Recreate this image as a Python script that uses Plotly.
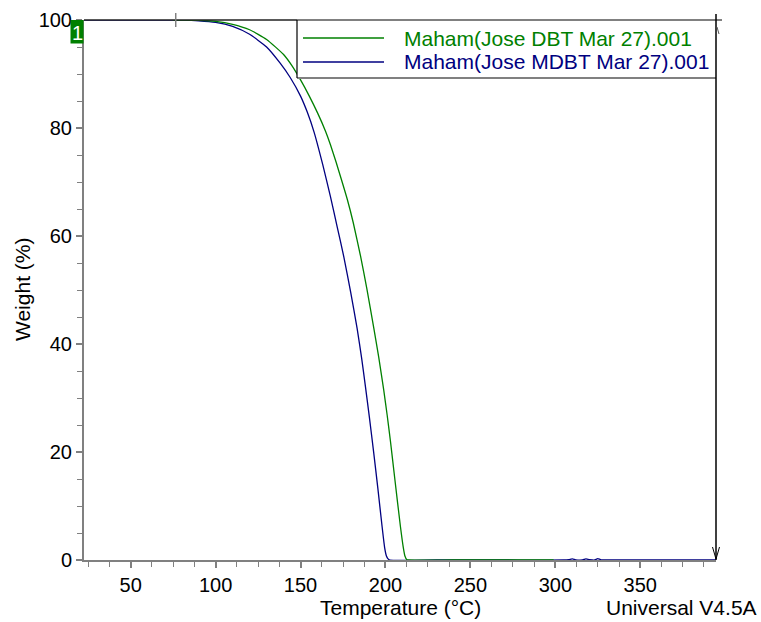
import plotly.graph_objects as go

# TGA weight-loss curves (temperature in °C, weight in %)
series_names = ["Maham(Jose DBT Mar 27).001", "Maham(Jose MDBT Mar 27).001"]
series_colors = ["#008000", "#000080"]

dbt_temp = [75, 80, 90, 100, 110, 120, 130, 140, 145, 150, 155, 160, 164.7,
            167.6, 171, 174, 177.5, 181, 185.3, 189, 193.1, 196, 199, 201, 203,
            205.5, 208.8, 210.5, 211.5, 212.5, 213.3, 240, 270, 299]
dbt_weight = [100, 100, 99.95, 99.75, 99.2, 98.2, 96.4, 93.6, 91.5, 88.9, 86.0,
              82.8, 79.4, 76.9, 73.6, 70.5, 66.8, 62.5, 56.3, 50.3, 43.0, 37.6,
              31.4, 26.8, 21.8, 15.0, 6.2, 2.3, 0.7, 0.1, 0.0, 0.0, 0.0, 0.0]

mdbt_temp = [22.5, 40, 60, 80, 90, 100, 110, 120, 130, 138, 144, 150, 154,
             158, 163, 167.6, 171.5, 175.5, 179.5, 183.3, 186, 188.2, 190.5,
             193.1, 195.5, 198, 199.5, 200.5, 201.5, 202.5, 230, 270, 305, 308,
             310, 312, 316, 318, 320, 323, 325, 327, 340, 380, 394.6]
mdbt_weight = [100, 100, 100, 99.97, 99.85, 99.55, 98.8, 97.35, 95.0, 92.0,
               89.3, 85.9, 82.9, 79.2, 73.3, 67.3, 61.8, 56.1, 49.6, 42.9,
               37.3, 32.1, 26.5, 19.8, 13.3, 6.2, 2.3, 0.8, 0.2, 0.0, 0.0, 0.0,
               0.0, 0.08, 0.2, 0.03, 0.0, 0.2, 0.08, 0.0, 0.25, 0.04, 0.0, 0.0,
               0.0]

x_ticks = [50, 100, 150, 200, 250, 300, 350]
y_ticks = [0, 20, 40, 60, 80, 100]

FONT = "Liberation Sans, Arial, sans-serif"
AXIS_GRAY = "#808080"

fig = go.Figure()
fig.add_trace(go.Scatter(x=mdbt_temp, y=mdbt_weight, mode="lines",
                         name=series_names[1], showlegend=False,
                         line=dict(color=series_colors[1], width=1.3, shape="spline",
                                   smoothing=0.5)))
fig.add_trace(go.Scatter(x=dbt_temp, y=dbt_weight, mode="lines",
                         name=series_names[0], showlegend=False,
                         line=dict(color=series_colors[0], width=1.3, shape="spline",
                                   smoothing=0.5)))

# plot area: 84..716 px horizontally, 20..560 px vertically
L, R, T, B = 84, 45, 20, 62
W, H = 761, 622
pw, ph = W - L - R, H - T - B


def px_x(px):
    return (px - L) / pw


def px_y(py):
    return (H - B - py) / ph


shapes = []
# dark top frame up to the legend box
shapes.append(dict(type="line", xref="paper", yref="paper", x0=0, x1=px_x(297),
                   y0=1, y1=1, line=dict(color="#222222", width=1.5)))
# legend box
shapes.append(dict(type="rect", xref="paper", yref="paper", x0=px_x(297), x1=1,
                   y0=px_y(78), y1=1, fillcolor="white", line=dict(width=0),
                   layer="above"))
shapes.append(dict(type="line", xref="paper", yref="paper", x0=px_x(297), x1=px_x(722),
                   y0=1, y1=1, line=dict(color=AXIS_GRAY, width=2)))
shapes.append(dict(type="line", xref="paper", yref="paper", x0=px_x(297), x1=1,
                   y0=px_y(78), y1=px_y(78), line=dict(color=AXIS_GRAY, width=2)))
shapes.append(dict(type="line", xref="paper", yref="paper", x0=px_x(297), x1=px_x(297),
                   y0=px_y(78), y1=1, line=dict(color="black", width=1.2)))
# right-hand cursor line with arrow marks
shapes.append(dict(type="line", xref="paper", yref="paper", x0=1, x1=1,
                   y0=0, y1=px_y(14), line=dict(color="black", width=1.5)))
shapes.append(dict(type="line", xref="paper", yref="paper", x0=px_x(712.5), x1=1,
                   y0=px_y(547), y1=px_y(559), line=dict(color="black", width=1)))
shapes.append(dict(type="line", xref="paper", yref="paper", x0=px_x(719.5), x1=1,
                   y0=px_y(547), y1=px_y(559), line=dict(color="black", width=1)))
shapes.append(dict(type="line", xref="paper", yref="paper", x0=px_x(717), x1=px_x(719),
                   y0=px_y(27), y1=px_y(34), line=dict(color="#555555", width=1)))
# cursor tick at the top frame
shapes.append(dict(type="line", xref="x", yref="paper", x0=76.5, x1=76.5,
                   y0=px_y(27), y1=px_y(13), line=dict(color=AXIS_GRAY, width=1.5)))
# numbered curve marker box
shapes.append(dict(type="rect", xref="paper", yref="paper", x0=px_x(70.5), x1=px_x(83.5),
                   y0=px_y(43.5), y1=px_y(20), fillcolor="#008000", line=dict(width=0)))

annotations = []
legend_rows = [38, 62]
for name, color, row in zip(series_names, series_colors, legend_rows):
    shapes.append(dict(type="line", xref="paper", yref="paper",
                       x0=px_x(303), x1=px_x(384), y0=px_y(row), y1=px_y(row),
                       line=dict(color=color, width=1.5), layer="above"))
    annotations.append(dict(xref="paper", yref="paper", x=px_x(402), y=px_y(row),
                            xanchor="left", yanchor="middle", showarrow=False,
                            text=name, font=dict(family=FONT, size=21, color=color)))

annotations.append(dict(xref="paper", yref="paper", x=px_x(77), y=px_y(32.5),
                        xanchor="center", yanchor="middle", showarrow=False, text="1",
                        font=dict(family=FONT, size=20, color="white")))
# axis titles and footer
annotations.append(dict(xref="paper", yref="paper", x=0.5, y=px_y(607),
                        xanchor="center", yanchor="middle", showarrow=False,
                        text="Temperature (°C)", font=dict(family=FONT, size=21, color="black")))
annotations.append(dict(xref="paper", yref="paper", x=px_x(22), y=0.5,
                        xanchor="center", yanchor="middle", showarrow=False, textangle=-90,
                        text="Weight (%)", font=dict(family=FONT, size=21, color="black")))
annotations.append(dict(xref="paper", yref="paper", x=px_x(759), y=px_y(607),
                        xanchor="right", yanchor="middle", showarrow=False,
                        text="Universal V4.5A", font=dict(family=FONT, size=21, color="black")))

fig.update_layout(
    width=W, height=H,
    margin=dict(l=L, r=R, t=T, b=B, autoexpand=False),
    paper_bgcolor="white", plot_bgcolor="white",
    showlegend=False,
    shapes=shapes, annotations=annotations,
    font=dict(family=FONT, size=20, color="black"),
)
fig.update_xaxes(range=[22.5, 394.6], showgrid=False, zeroline=False,
                 showline=True, linecolor=AXIS_GRAY, linewidth=2,
                 tickmode="array", tickvals=x_ticks, ticks="outside", ticklen=6,
                 tickcolor=AXIS_GRAY, tickwidth=1.5,
                 tickfont=dict(family=FONT, size=20, color="black"),
                 minor=dict(tick0=0, dtick=12.5, ticks="outside", ticklen=5,
                            tickcolor=AXIS_GRAY, tickwidth=1.2))
fig.update_yaxes(range=[0, 100], showgrid=False, zeroline=False,
                 showline=True, linecolor=AXIS_GRAY, linewidth=2,
                 tickmode="array", tickvals=y_ticks, ticks="outside", ticklen=6,
                 tickcolor=AXIS_GRAY, tickwidth=1.5,
                 tickfont=dict(family=FONT, size=20, color="black"),
                 minor=dict(tick0=0, dtick=5, ticks="outside", ticklen=5,
                            tickcolor=AXIS_GRAY, tickwidth=1.2))

fig.write_html("out.html")
